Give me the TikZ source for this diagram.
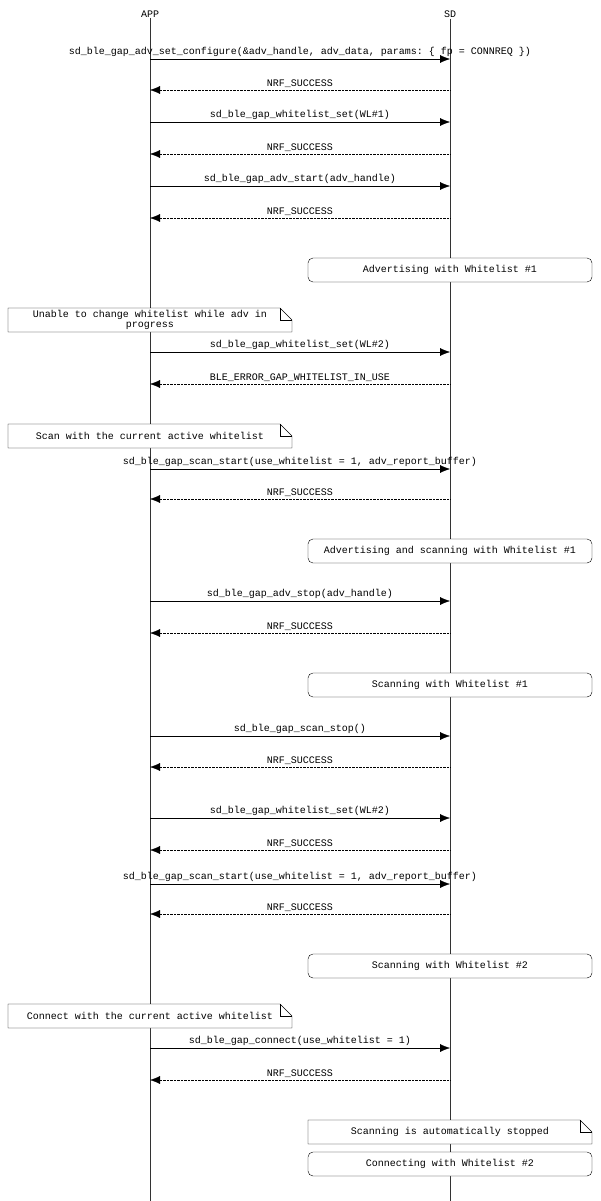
\documentclass[tikz,border=0pt]{standalone}
\usepackage{fontspec}
\setmonofont{Liberation Mono}
\usetikzlibrary{positioning,calc,arrows.meta}

\tikzset{
  txt/.style={font=\ttfamily\fontsize{10}{10.4}\selectfont, inner sep=1pt},
  call/.style={-{Latex[length=10pt,width=8pt]}, thin},
  ret/.style={-{Latex[length=10pt,width=8pt]}, thin, densely dotted},
  life/.style={thin, black!80},
  state/.style={draw, rounded corners=5pt, thin}
}
% note box with folded corner: #1 x left, #2 y top, #3 x right, #4 y bottom
\newcommand{\mscnote}[5]{%
  \draw[thin, fill=white] (#1,#2) -- (#3-12,#2) -- (#3,#2+12) -- (#3,#4) -- (#1,#4) -- cycle;
  \draw[thin] (#3-12,#2) -- (#3-12,#2+12) -- (#3,#2+12);
  \node[txt, align=center] at ({(#1+#3)/2},{(#2+#4)/2}) {#5};}

\begin{document}
\begin{tikzpicture}[x=1pt,y=-1pt]
    \useasboundingbox (0,0) rectangle (600,1201);

    % Lifelines
    \node[txt] (app) at (150,14) {APP};
    \node[txt] (sd) at (450,14) {SD};
    \coordinate (append) at (150,1201);
    \coordinate (sdend) at (450,1201);
    \draw[life] (app) -- (append);
    \draw[life] (sd) -- (sdend);

    % Calls (APP -> SD)
    \foreach \y/\t [count=\i] in {
        59/{sd\_ble\_gap\_adv\_set\_configure(\&adv\_handle, adv\_data, params: \{ fp = CONNREQ \})},
        122/{sd\_ble\_gap\_whitelist\_set(WL\#1)},
        186/{sd\_ble\_gap\_adv\_start(adv\_handle)},
        352/{sd\_ble\_gap\_whitelist\_set(WL\#2)},
        469/{sd\_ble\_gap\_scan\_start(use\_whitelist = 1, adv\_report\_buffer)},
        601/{sd\_ble\_gap\_adv\_stop(adv\_handle)},
        736/{sd\_ble\_gap\_scan\_stop()},
        818/{sd\_ble\_gap\_whitelist\_set(WL\#2)},
        884/{sd\_ble\_gap\_scan\_start(use\_whitelist = 1, adv\_report\_buffer)},
        1048/{sd\_ble\_gap\_connect(use\_whitelist = 1)}} {
        \coordinate (ca\i) at (150,\y);
        \coordinate (cs\i) at (450,\y);
        \draw[call] (ca\i) -- (cs\i) node[txt, midway, above=1pt] {\t};
    }

    % Returns (SD -> APP)
    \foreach \y/\t [count=\i] in {
        90/NRF\_SUCCESS, 154/NRF\_SUCCESS, 218/NRF\_SUCCESS,
        384/BLE\_ERROR\_GAP\_WHITELIST\_IN\_USE,
        499/NRF\_SUCCESS, 633/NRF\_SUCCESS, 767/NRF\_SUCCESS,
        850/NRF\_SUCCESS, 914/NRF\_SUCCESS, 1080/NRF\_SUCCESS} {
        \coordinate (rs\i) at (450,\y);
        \coordinate (ra\i) at (150,\y);
        \draw[ret] (rs\i) -- (ra\i) node[txt, midway, above=1pt] {\t};
    }

    % States of SD
    \foreach \y/\t in {
        270/{Advertising with Whitelist \#1},
        551/{Advertising and scanning with Whitelist \#1},
        685/{Scanning with Whitelist \#1},
        966/{Scanning with Whitelist \#2},
        1164/{Connecting with Whitelist \#2}} {
        \draw[state, fill=white] (308,\y-12) rectangle (592,\y+12);
        \node[txt] at (450,\y) {\t};
    }

    % Notes
    \mscnote{8}{308}{292}{332}{Unable to change whitelist while adv in\\progress}
    \mscnote{8}{424}{292}{448}{Scan with the current active whitelist}
    \mscnote{8}{1004}{292}{1028}{Connect with the current active whitelist}
    \mscnote{308}{1120}{592}{1144}{Scanning is automatically stopped}
\end{tikzpicture}
\end{document}
